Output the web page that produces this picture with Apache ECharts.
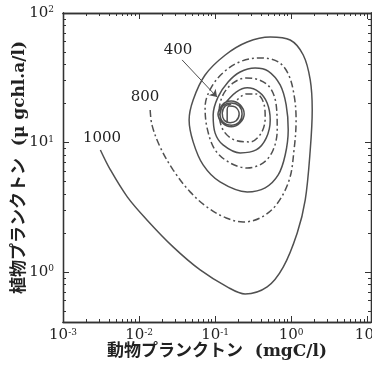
<!DOCTYPE html>
<html>
<head>
<meta charset="utf-8">
<script src="https://cdn.jsdelivr.net/npm/echarts@6/dist/echarts.min.js"></script>
<style>
html, body { margin: 0; background: #fff; }
#chart { width: 372px; height: 365px; }
</style>
</head>
<body>
<div id="chart"></div>
<script>
// trajectories [zooplankton, phytoplankton]
const curve1000 = [
  [0.0031, 8.75], [0.0042, 6.14], [0.0070, 3.80], [0.0127, 2.52], [0.0280, 1.56],
  [0.0636, 1.035], [0.144, 0.766], [0.248, 0.676], [0.483, 0.766], [0.785, 1.09],
  [1.20, 2.00], [1.53, 3.60], [1.78, 8.75], [1.89, 17.8], [1.78, 30.4],
  [1.44, 47.4], [0.970, 61.9], [0.530, 65.3], [0.264, 59.7], [0.136, 47.4],
  [0.0738, 33.2], [0.0514, 21.3], [0.0455, 14.9], [0.0514, 10.1], [0.0695, 6.70],
  [0.116, 4.95], [0.264, 4.15], [0.455, 4.46], [0.675, 5.61], [0.834, 8.00],
  [0.914, 12.5], [0.859, 19.5], [0.716, 27.8], [0.498, 35.6], [0.336, 37.6],
  [0.213, 35.0], [0.148, 29.3], [0.109, 22.4], [0.0942, 16.3], [0.100, 11.8],
  [0.127, 9.57], [0.213, 8.30], [0.346, 8.75], [0.469, 10.8], [0.530, 14.9],
  [0.483, 20.2], [0.379, 24.5], [0.264, 26.4], [0.189, 24.5], [0.140, 20.6],
  [0.124, 19.5], [0.109, 16.6], [0.124, 14.2], [0.163, 13.2], [0.213, 14.2],
  [0.241, 16.6], [0.213, 19.5], [0.163, 20.9], [0.124, 19.5], [0.116, 16.6],
  [0.127, 14.4], [0.163, 13.6], [0.207, 14.4], [0.226, 16.6], [0.207, 19.1],
  [0.163, 20.2], [0.127, 19.1], [0.116, 16.6]
];
const curve800 = [
  [0.0140, 17.8], [0.0148, 13.6], [0.0189, 9.23], [0.0280, 6.14], [0.0469, 4.15],
  [0.0809, 3.12], [0.140, 2.61], [0.233, 2.43], [0.391, 2.61], [0.635, 3.29],
  [0.942, 5.13], [1.09, 8.75], [1.16, 14.9], [1.09, 23.3], [0.914, 33.8],
  [0.675, 41.9], [0.391, 45.0], [0.226, 42.6], [0.140, 36.3], [0.0914, 27.3],
  [0.0738, 18.8], [0.0785, 12.9], [0.100, 8.75], [0.157, 6.95], [0.264, 6.35],
  [0.429, 6.95], [0.579, 8.75], [0.655, 12.5], [0.635, 19.5], [0.530, 26.4],
  [0.379, 30.4], [0.256, 31.5], [0.173, 28.8], [0.127, 23.3], [0.113, 17.2],
  [0.127, 12.5], [0.183, 10.4], [0.289, 10.1], [0.403, 11.8], [0.455, 15.5],
  [0.429, 20.6], [0.346, 23.7], [0.256, 23.7], [0.195, 21.3]
];
const curve400 = [
  [0.144, 14.4], [0.144, 17.8], [0.153, 19.1], [0.183, 18.8], [0.207, 16.6],
  [0.189, 14.7], [0.157, 14.2], [0.131, 14.9], [0.124, 16.9], [0.136, 19.1],
  [0.163, 19.8]
];

const xMajor = [0.001, 0.01, 0.1, 1, 10];
const yMajor = [1, 10, 100];
const xRange = [0.001, 11.2];
const yRange = [0.41, 100];

function minorOf(major, range) {
  const out = [];
  major.concat([major[0] / 10]).forEach(function (d) {
    for (let k = 2; k < 10; k++) {
      const v = d * k;
      if (v > range[0] && v < range[1]) out.push(v);
    }
  });
  return out;
}

const textColor = '#222';
const lineColor = '#505050';

function powLabel(v) {
  const e = Math.round(Math.log10(v));
  return '{b|10}{s|' + e + '}';
}

const labelRich = {
  b: { fontFamily: 'DejaVu Serif', fontSize: 15, color: textColor },
  s: { fontFamily: 'DejaVu Serif', fontSize: 9, color: textColor, verticalAlign: 'top' }
};

const nameStyle = {
  fontFamily: '"DejaVu Serif", "Noto Sans CJK JP"',
  fontWeight: 'bold',
  fontSize: 17,
  color: textColor
};

function makeAxis(kind, position, ticks, len, withLabel) {
  const isX = kind === 'x';
  const range = isX ? xRange : yRange;
  const axis = {
    type: 'log',
    logBase: 10,
    position: position,
    min: range[0],
    max: range[1],
    splitLine: { show: false },
    axisLine: { show: true, onZero: false, lineStyle: { color: '#333', width: 1.3 } },
    axisTick: {
      show: true,
      inside: true,
      length: len,
      customValues: ticks,
      lineStyle: { color: '#333', width: 1 }
    },
    axisLabel: { show: false }
  };
  if (withLabel) {
    axis.axisLabel = {
      show: true,
      customValues: isX ? xMajor : yMajor,
      formatter: powLabel,
      rich: labelRich,
      margin: isX ? 6 : 9
    };
    axis.name = isX ? '動物プランクトン  (mgC/l)' : '植物プランクトン  (μ gchl.a/l)';
    axis.nameLocation = 'middle';
    axis.nameGap = isX ? 21 : 35;
    axis.nameMoveOverlap = false;
    axis.nameTextStyle = nameStyle;
    if (!isX) axis.nameRotate = 90;
  }
  return axis;
}

const dashDot = [7, 3, 2, 3];
const chart = echarts.init(document.getElementById('chart'));

chart.setOption({
  animation: false,
  backgroundColor: '#fff',
  grid: { left: 63, right: 1, top: 13, bottom: 43, outerBoundsMode: 'none', containLabel: false },
  xAxis: [
    makeAxis('x', 'bottom', xMajor, 6, true),
    makeAxis('x', 'bottom', minorOf(xMajor, xRange), 3, false),
    makeAxis('x', 'top', xMajor, 6, false),
    makeAxis('x', 'top', minorOf(xMajor, xRange), 3, false)
  ],
  yAxis: [
    makeAxis('y', 'left', yMajor, 6, true),
    makeAxis('y', 'left', minorOf(yMajor, yRange), 3, false),
    makeAxis('y', 'right', yMajor, 6, false),
    makeAxis('y', 'right', minorOf(yMajor, yRange), 3, false)
  ],
  series: [
    {
      name: '1000',
      type: 'line',
      data: curve1000,
      smooth: 0.35,
      showSymbol: false,
      lineStyle: { color: lineColor, width: 1.5 },
      markPoint: {
        symbol: 'circle',
        symbolSize: 0,
        data: [{ name: '1000', coord: [0.00326, 10.8] }],
        label: { show: true, position: 'inside', formatter: '{b}', fontFamily: 'DejaVu Serif', fontSize: 15, color: textColor }
      }
    },
    {
      name: '800',
      type: 'line',
      data: curve800,
      smooth: 0.35,
      showSymbol: false,
      lineStyle: { color: lineColor, width: 1.5, type: dashDot },
      markPoint: {
        symbol: 'circle',
        symbolSize: 0,
        data: [{ name: '800', coord: [0.0120, 22.4] }],
        label: { show: true, position: 'inside', formatter: '{b}', fontFamily: 'DejaVu Serif', fontSize: 15, color: textColor }
      }
    },
    {
      name: '400',
      type: 'line',
      data: curve400,
      smooth: 0.35,
      showSymbol: false,
      lineStyle: { color: lineColor, width: 1.5 },
      markPoint: {
        symbol: 'circle',
        symbolSize: 0,
        data: [{ name: '400', coord: [0.0326, 51.8] }],
        label: { show: true, position: 'inside', formatter: '{b}', fontFamily: 'DejaVu Serif', fontSize: 15, color: textColor }
      },
      markLine: {
        silent: true,
        symbolSize: 7,
        label: { show: false },
        lineStyle: { color: lineColor, width: 1, type: 'solid' },
        data: [[
          { coord: [0.0368, 43.4], symbol: 'none' },
          { coord: [0.106, 22.4], symbol: 'arrow' }
        ]]
      }
    }
  ]
});
</script>
</body>
</html>
